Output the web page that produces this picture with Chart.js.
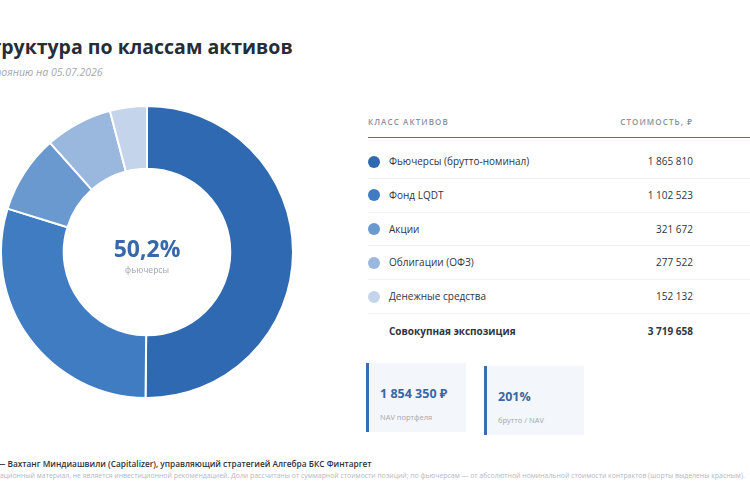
<!DOCTYPE html>
<html>
<head>
<meta charset="utf-8">
<script src="https://cdn.jsdelivr.net/npm/chart.js@4/dist/chart.umd.min.js"></script>
<style>
  html, body { margin: 0; padding: 0; background: #fff; }
  body { width: 750px; height: 500px; position: relative; overflow: hidden; font-family: "Open Sans", "Noto Sans", sans-serif; color: #2b303a; }
  .abs { position: absolute; white-space: nowrap; }
  #title { left: -22px; top: 33px; font-size: 19.5px; font-weight: 700; color: #272c36; }
  #subtitle { left: -39px; top: 65px; font-size: 10.5px; font-style: italic; color: #a2a7ae; }
  #donut { position: absolute; left: -3px; top: 102px; width: 300px; height: 300px; }
  #center { position: absolute; left: 47px; top: 234px; width: 200px; text-align: center; }
  #center .pct { font-size: 23px; font-weight: 700; color: #3668aa; line-height: 28px; }
  #center .sub { font-size: 8.5px; color: #a0a5ad; margin-top: 2px; }
  #table { position: absolute; left: 368px; top: 114px; width: 382px; }
  .hdr { height: 22.5px; border-bottom: 1.5px solid #4475b3; position: relative; }
  .hdr span { position: absolute; top: 2px; font-size: 8px; font-weight: 600; letter-spacing: 1.1px; color: #8b9099; }
  .spacer { height: 7.5px; }
  .row { height: 32.8px; border-bottom: 1px solid #f0f2f5; position: relative; font-size: 10px; color: #30353e; }
  .row .dot { position: absolute; left: 0; top: 10.5px; width: 12px; height: 12px; border-radius: 50%; }
  .row .lbl { position: absolute; left: 21px; top: 9px; }
  .row .val { position: absolute; right: 57px; top: 9px; }
  .row.total { border-bottom: none; font-weight: 700; }
  .row.total .lbl, .row.total .val { top: 10.5px; }
  .card { position: absolute; width: 97px; height: 69px; background: #f3f6fb; border-left: 3px solid #3a6cb0; }
  .card .big { position: absolute; left: 11px; top: 22px; font-size: 12.5px; font-weight: 700; color: #3a66a3; }
  .card .small { position: absolute; left: 11px; top: 49px; font-size: 7.5px; color: #a3a8b0; }
  #author { left: -3px; top: 458px; font-size: 8.3px; font-weight: 600; color: #2e333c; }
  #disc { left: -28px; top: 471px; font-size: 6.9px; color: #b4b8be; }
</style>
</head>
<body>
<div id="title" class="abs">Структура по классам активов</div>
<div id="subtitle" class="abs">По состоянию на 05.07.2026</div>

<div id="donut"><canvas id="chart"></canvas></div>
<div id="center"><div class="pct" id="pct"></div><div class="sub">фьючерсы</div></div>

<div id="table"></div>

<div class="card" style="left:366px; top:363px;"><div class="big">1 854 350 ₽</div><div class="small">NAV портфеля</div></div>
<div class="card" style="left:484px; top:366px;"><div class="big">201%</div><div class="small">брутто / NAV</div></div>

<div id="author" class="abs">— Вахтанг Миндиашвили (Capitalizer), управляющий стратегией Алгебра БКС Финтаргет</div>
<div id="disc" class="abs">Информационный материал, не является инвестиционной рекомендацией. Доли рассчитаны от суммарной стоимости позиций; по фьючерсам — от абсолютной номинальной стоимости контрактов (шорты выделены красным).</div>

<script>
// asset classes and their values, rub
const categories = ['Фьючерсы (брутто-номинал)', 'Фонд LQDT', 'Акции', 'Облигации (ОФЗ)', 'Денежные средства'];
const values = [1865810, 1102523, 321672, 277522, 152132];
const colors = ['#2f69b1', '#3f7cc2', '#6a99d0', '#9ab8de', '#c4d4ea'];
// total as printed on the slide (rounded separately)
const totalExposure = 3719658;

const fmt = n => n.toString().replace(/\B(?=(\d{3})+(?!\d))/g, ' ');

// table
let html = '<div class="hdr"><span style="left:0">КЛАСС АКТИВОВ</span><span style="right:57px">СТОИМОСТЬ, ₽</span></div><div class="spacer"></div>';
categories.forEach((c, i) => {
	html += '<div class="row"><div class="dot" style="background:' + colors[i] + '"></div>' +
		'<div class="lbl">' + c + '</div><div class="val">' + fmt(values[i]) + '</div></div>';
});
html += '<div class="row total"><div class="lbl">Совокупная экспозиция</div><div class="val">' + fmt(totalExposure) + '</div></div>';
document.getElementById('table').innerHTML = html;

document.getElementById('pct').textContent = (values[0] / totalExposure * 100).toFixed(1).replace('.', ',') + '%';

new Chart(document.getElementById('chart'), {
	type: 'doughnut',
	data: {
		labels: categories,
		datasets: [{
			data: values,
			backgroundColor: colors,
			borderColor: '#ffffff',
			borderWidth: 2,
			hoverOffset: 0
		}]
	},
	options: {
		responsive: true,
		maintainAspectRatio: false,
		animation: false,
		radius: 146,
		cutout: 85,
		layout: { padding: 0 },
		plugins: {
			legend: { display: false },
			tooltip: { enabled: false }
		}
	}
});
</script>
</body>
</html>
